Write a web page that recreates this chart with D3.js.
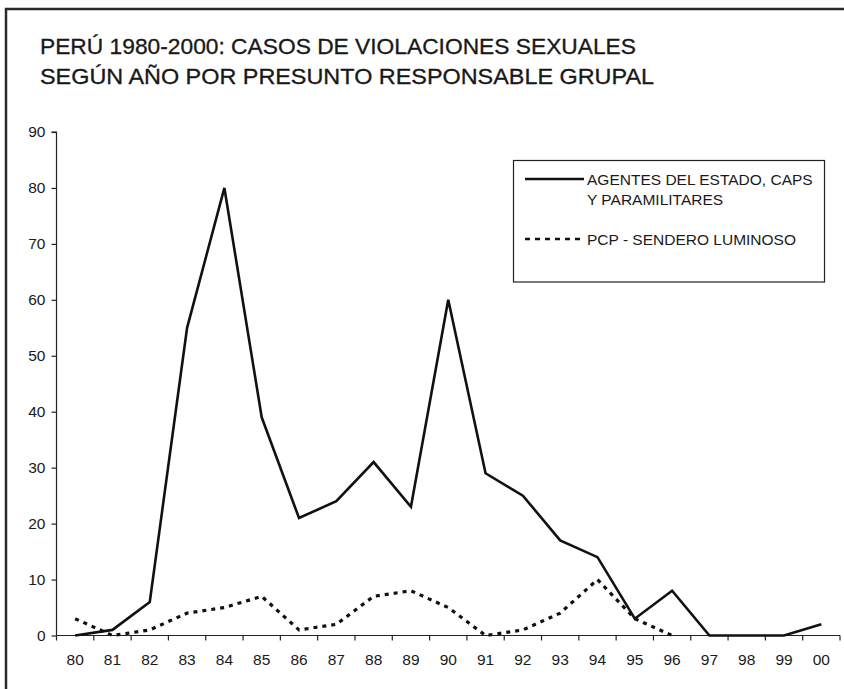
<!DOCTYPE html>
<html>
<head>
<meta charset="utf-8">
<script src="https://cdn.jsdelivr.net/npm/d3@7"></script>
<style>
  html, body { margin: 0; padding: 0; background: #fff; }
  svg { display: block; }
  text { font-family: "Liberation Sans", Arial, sans-serif; fill: #1a1a1a; }
</style>
</head>
<body>
<svg id="chart" width="844" height="689"></svg>
<script>
const titleLines = [
  "PERÚ 1980-2000: CASOS DE VIOLACIONES SEXUALES",
  "SEGÚN AÑO POR PRESUNTO RESPONSABLE GRUPAL"
];
const years = ["80","81","82","83","84","85","86","87","88","89","90","91","92","93","94","95","96","97","98","99","00"];
const agentes = [0,1,6,55,80,39,21,24,31,23,60,29,25,17,14,3,8,0,0,0,2];
const pcpYears = ["80","81","82","83","84","85","86","87","88","89","90","91","92","93","94","95","96"];
const pcp = [3,0,1,4,5,7,1,2,7,8,5,0,1,4,10,3,0];
const yTicks = [0,10,20,30,40,50,60,70,80,90];
const legendAgentes = ["AGENTES DEL ESTADO, CAPS", "Y PARAMILITARES"];
const legendPcp = "PCP - SENDERO LUMINOSO";

const svg = d3.select("#chart");

// outer frame (extends beyond the picture on right/bottom)
svg.append("rect")
  .attr("x", 6).attr("y", 9)
  .attr("width", 900).attr("height", 800)
  .attr("fill", "none").attr("stroke", "#2a2a2a").attr("stroke-width", 2.5);

// title
const titleWidths = [596, 614];
svg.append("g").selectAll("text").data(titleLines).join("text")
  .attr("x", 40).attr("y", (d, i) => 54 + i * 30)
  .attr("font-size", 22)
  .attr("textLength", (d, i) => titleWidths[i])
  .attr("lengthAdjust", "spacingAndGlyphs")
  .attr("fill", "#111")
  .attr("stroke", "#111").attr("stroke-width", 0.3)
  .text(d => d);

const pLeft = 56.5, pRight = 840, pTop = 132, pBottom = 635.5;

const xBand = d3.scaleBand().domain(years).range([pLeft, pRight]).paddingInner(0).paddingOuter(0);
const xc = d => xBand(d) + xBand.bandwidth() / 2;
const y = d3.scaleLinear().domain([0, 90]).range([pBottom, pTop]);

// y axis
const yAxis = svg.append("g")
  .attr("transform", `translate(${pLeft},0)`)
  .call(d3.axisLeft(y).tickValues(yTicks).tickSize(5).tickPadding(6).tickFormat(d3.format("d")));
yAxis.select(".domain").attr("stroke", "#222").attr("stroke-width", 1.2).attr("d", `M-5,${pTop}H0V${pBottom}`);
yAxis.selectAll(".tick line").attr("stroke", "#222").attr("stroke-width", 1.2);
yAxis.selectAll(".tick text").attr("font-size", 15.5).attr("font-family", "Liberation Sans, Arial, sans-serif").attr("fill", "#1a1a1a");

// x axis
const xAxis = svg.append("g")
  .attr("transform", `translate(0,${pBottom})`)
  .call(d3.axisBottom(xBand).tickSize(0).tickPadding(18));
xAxis.select(".domain").attr("stroke", "#222").attr("stroke-width", 1.2).attr("d", `M${pLeft},0H${pRight}`);
xAxis.selectAll(".tick text").attr("font-size", 15.5).attr("font-family", "Liberation Sans, Arial, sans-serif").attr("fill", "#1a1a1a");
// tick marks at band boundaries
const boundaries = years.map(d => xBand(d)).concat([xBand(years[years.length - 1]) + xBand.bandwidth()]);
xAxis.append("g").selectAll("line").data(boundaries).join("line")
  .attr("x1", d => d).attr("x2", d => d)
  .attr("y1", 0).attr("y2", 5)
  .attr("stroke", "#222").attr("stroke-width", 1.2);

// lines
const lineA = d3.line().x((d, i) => xc(years[i])).y(d => y(d));
svg.append("path").datum(agentes)
  .attr("d", lineA)
  .attr("fill", "none").attr("stroke", "#111").attr("stroke-width", 2.6)
  .attr("stroke-linejoin", "miter");

const lineP = d3.line().x((d, i) => xc(pcpYears[i])).y(d => y(d));
svg.append("path").datum(pcp)
  .attr("d", lineP)
  .attr("fill", "none").attr("stroke", "#111").attr("stroke-width", 3.2)
  .attr("stroke-dasharray", "4,5");

// legend
const lg = svg.append("g");
lg.append("rect").attr("x", 513.5).attr("y", 160.5).attr("width", 311).attr("height", 121.5)
  .attr("fill", "#fff").attr("stroke", "#222").attr("stroke-width", 1.2);
lg.append("line").attr("x1", 525).attr("x2", 584).attr("y1", 179).attr("y2", 179)
  .attr("stroke", "#111").attr("stroke-width", 2.6);
lg.append("line").attr("x1", 525).attr("x2", 584).attr("y1", 239).attr("y2", 239)
  .attr("stroke", "#111").attr("stroke-width", 2.6).attr("stroke-dasharray", "5,5");
lg.selectAll("text.a").data(legendAgentes).join("text")
  .attr("class", "a")
  .attr("x", 587).attr("y", (d, i) => 184.5 + i * 20)
  .attr("font-size", 15.5)
  .attr("fill", "#222")
  .text(d => d);
lg.append("text").attr("x", 587).attr("y", 244.5).attr("font-size", 15.5).attr("fill", "#222").text(legendPcp);
</script>
</body>
</html>
